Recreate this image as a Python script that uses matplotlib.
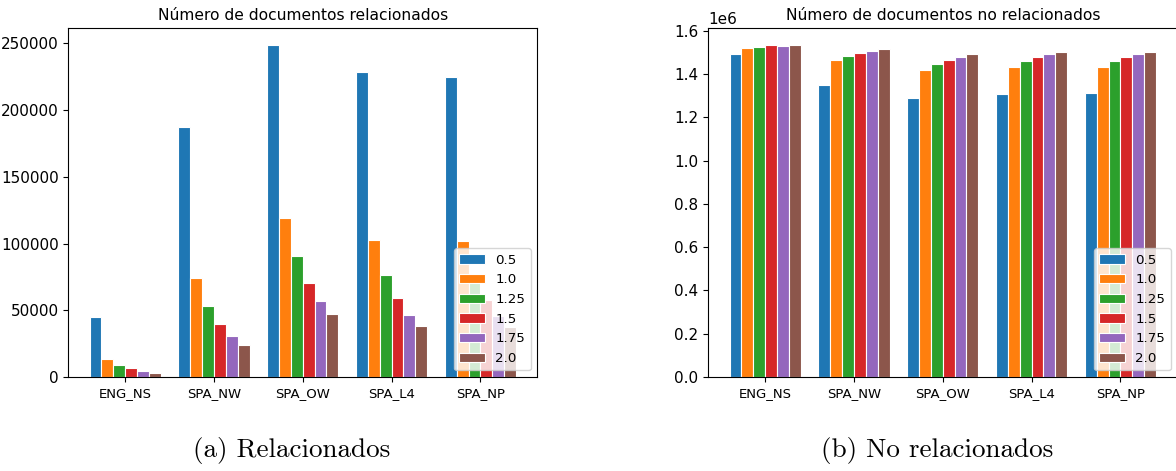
import numpy as np
import matplotlib
matplotlib.use("Agg")
from matplotlib import pyplot as plt

# Data
corpora = ["ENG_NS", "SPA_NW", "SPA_OW", "SPA_L4", "SPA_NP"]
thresholds = ["0.5", "1.0", "1.25", "1.5", "1.75", "2.0"]

related = {
    "0.5":  [44900, 187100, 249000, 228800, 225100],
    "1.0":  [13800, 74400, 119000, 102800, 101600],
    "1.25": [9300, 53100, 90600, 76600, 76000],
    "1.5":  [6500, 39700, 70700, 58900, 58000],
    "1.75": [4500, 30500, 57200, 46700, 46000],
    "2.0":  [3000, 24000, 46900, 38200, 37500],
}

unrelated = {
    "0.5":  [1.494e6, 1.352e6, 1.292e6, 1.309e6, 1.314e6],
    "1.0":  [1.521e6, 1.468e6, 1.420e6, 1.435e6, 1.435e6],
    "1.25": [1.528e6, 1.483e6, 1.449e6, 1.462e6, 1.462e6],
    "1.5":  [1.537e6, 1.497e6, 1.468e6, 1.480e6, 1.480e6],
    "1.75": [1.532e6, 1.509e6, 1.480e6, 1.494e6, 1.494e6],
    "2.0":  [1.537e6, 1.515e6, 1.494e6, 1.502e6, 1.502e6],
}

W, H = 1176, 471
fig = plt.figure(figsize=(W / 100, H / 100), dpi=100)

ax1 = fig.add_axes([68.3 / W, (H - 377) / H, 469 / W, 349 / H])
ax2 = fig.add_axes([708.3 / W, (H - 377) / H, 469 / W, 349 / H])

x = np.arange(len(corpora))
step = 0.8 / len(thresholds)


def draw(ax, data, title):
    for i, t in enumerate(thresholds):
        ax.bar(x - 0.4 + step * (i + 0.5), data[t], width=step,
               edgecolor="white", linewidth=0.8, label=t)
    ax.set_xticks(x)
    ax.set_xticklabels(corpora, fontsize=9.5)
    ax.tick_params(axis="y", labelsize=11)
    ax.yaxis.get_offset_text().set_fontsize(11)
    ax.set_title(title, fontsize=11.2, pad=6)
    ax.legend(loc="lower right", fontsize=9.6, handlelength=1.9)


draw(ax1, related, "Número de documentos relacionados")
draw(ax2, unrelated, "Número de documentos no relacionados")

fig.text(292 / W, 1 - 451 / H, "(a) Relacionados", family="cmr10",
         fontsize=19.5, ha="center", va="center")
fig.text(937 / W, 1 - 451 / H, "(b) No relacionados", family="cmr10",
         fontsize=19.5, ha="center", va="center")

plt.savefig("out.png", dpi=100)
plt.close()
